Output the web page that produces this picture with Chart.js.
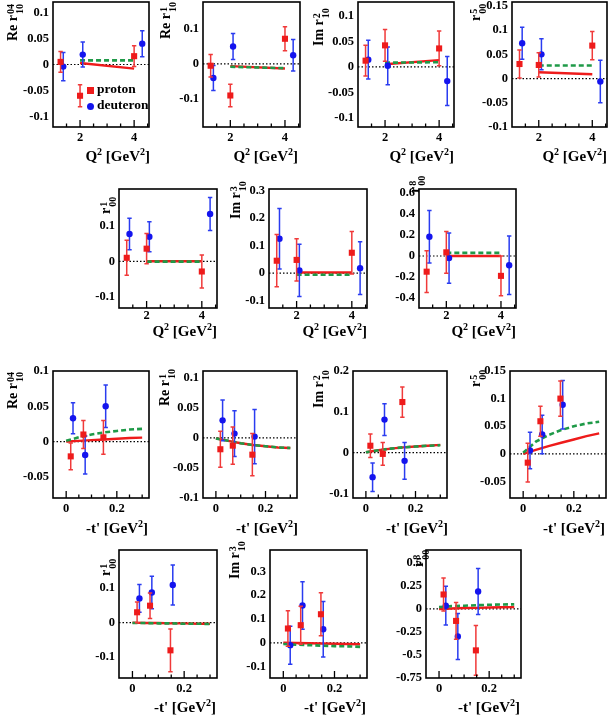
<!DOCTYPE html>
<html><head><meta charset="utf-8">
<script src="https://cdn.jsdelivr.net/npm/chart.js@4/dist/chart.umd.min.js"></script>
<style>
html,body{margin:0;padding:0;background:#fff;width:610px;height:716px;overflow:hidden;position:relative;font-family:"Liberation Serif","DejaVu Serif",serif;font-weight:bold;color:#000;}
canvas{position:absolute;}
.yt{position:absolute;transform:rotate(-90deg);transform-origin:0 0;white-space:nowrap;font-size:14px;line-height:20px;height:20px;}
.ss{display:inline-block;vertical-align:-6px;font-size:10px;line-height:9px;margin-left:1px;}
.ss span{display:block;}
.xt{position:absolute;font-size:15px;line-height:16px;white-space:nowrap;transform:translate(-100%,-50%);}
.xt sup{font-size:10px;position:relative;top:-6px;vertical-align:0;}
.leg{position:absolute;font-size:13.5px;line-height:14px;white-space:nowrap;}
.mk{position:absolute;}
</style>
</head><body>
<script>
// ---------- shared x values ----------
const qProtonX   = [1.28, 2.0, 4.0];
const qDeuteronX = [1.38, 2.1, 4.3];
const qModelX    = [2.0, 4.0];
const qTickLabels = [2, 4];
const qMinorTicks = [1.5, 2.5, 3, 3.5, 4.5];
const qRange = [1.0, 4.55];

const tProtonX   = [0.018, 0.068, 0.147];
const tDeuteronX = [0.027, 0.075, 0.156];
const tModelX    = [0, 0.05, 0.1, 0.15, 0.2, 0.25, 0.3];
const tTickLabels = [0, 0.2];
const tMinorTicks = [0.05, 0.1, 0.15, 0.25, 0.3];
const tRange = [-0.052, 0.327];

// ---------- panel 1: Re r04_10 vs Q2 ----------
const reR04Q_proton = [0.005, -0.060, 0.016];
const reR04Q_protonErr = [0.020, 0.021, 0.020];
const reR04Q_deuteron = [-0.004, 0.019, 0.040];
const reR04Q_deuteronErr = [0.027, 0.024, 0.025];
const reR04Q_red = [0.003, -0.008];
const reR04Q_green = [0.008, 0.008];
const reR04Q_ticks = [-0.1, -0.05, 0, 0.05, 0.1];
// ---------- panel 2: Re r1_10 vs Q2 ----------
const reR1Q_proton = [-0.005, -0.090, 0.072];
const reR1Q_protonErr = [0.032, 0.032, 0.034];
const reR1Q_deuteron = [-0.040, 0.050, 0.025];
const reR1Q_deuteronErr = [0.036, 0.037, 0.045];
const reR1Q_red = [-0.006, -0.013];
const reR1Q_green = [-0.008, -0.012];
const reR1Q_ticks = [-0.1, 0, 0.1];
// ---------- panel 3: Im r2_10 vs Q2 ----------
const imR2Q_proton = [0.012, 0.042, 0.036];
const imR2Q_protonErr = [0.030, 0.031, 0.034];
const imR2Q_deuteron = [0.014, 0.002, -0.028];
const imR2Q_deuteronErr = [0.038, 0.037, 0.048];
const imR2Q_red = [0.005, 0.013];
const imR2Q_green = [0.008, 0.009];
const imR2Q_ticks = [-0.1, -0.05, 0, 0.05, 0.1];
// ---------- panel 4: r5_00 vs Q2 ----------
const r5Q_proton = [0.030, 0.028, 0.068];
const r5Q_protonErr = [0.029, 0.025, 0.029];
const r5Q_deuteron = [0.073, 0.050, -0.006];
const r5Q_deuteronErr = [0.033, 0.032, 0.044];
const r5Q_red = [0.013, 0.009];
const r5Q_green = [0.027, 0.027];
const r5Q_ticks = [-0.1, -0.05, 0, 0.05, 0.1, 0.15];
// ---------- panel 5: r1_00 vs Q2 ----------
const r1Q_proton = [0.010, 0.036, -0.029];
const r1Q_protonErr = [0.050, 0.043, 0.047];
const r1Q_deuteron = [0.078, 0.070, 0.135];
const r1Q_deuteronErr = [0.045, 0.043, 0.047];
const r1Q_red = [0.000, 0.000];
const r1Q_green = [-0.001, -0.001];
const r1Q_ticks = [-0.1, 0, 0.1];
// ---------- panel 6: Im r3_10 vs Q2 ----------
const imR3Q_proton = [0.045, 0.048, 0.074];
const imR3Q_protonErr = [0.095, 0.077, 0.077];
const imR3Q_deuteron = [0.125, 0.010, 0.018];
const imR3Q_deuteronErr = [0.110, 0.095, 0.096];
const imR3Q_red = [0.002, 0.002];
const imR3Q_green = [-0.006, -0.006];
const imR3Q_ticks = [-0.1, 0, 0.1, 0.2, 0.3];
// ---------- panel 7: r8_00 vs Q2 ----------
const r8Q_proton = [-0.150, 0.035, -0.190];
const r8Q_protonErr = [0.200, 0.200, 0.190];
const r8Q_deuteron = [0.184, -0.020, -0.088];
const r8Q_deuteronErr = [0.250, 0.240, 0.280];
const r8Q_red = [0.000, 0.000];
const r8Q_green = [0.030, 0.030];
const r8Q_ticks = [-0.4, -0.2, 0, 0.2, 0.4, 0.6];
// ---------- panel 8: Re r04_10 vs -t' ----------
const reR04T_proton = [-0.021, 0.010, 0.006];
const reR04T_protonErr = [0.019, 0.020, 0.024];
const reR04T_deuteron = [0.033, -0.019, 0.050];
const reR04T_deuteronErr = [0.022, 0.027, 0.030];
const reR04T_red = [0.000, 0.001, 0.002, 0.003, 0.004, 0.005, 0.0055];
const reR04T_green = [0.001, 0.006, 0.010, 0.013, 0.015, 0.017, 0.018];
const reR04T_ticks = [-0.05, 0, 0.05, 0.1];
// ---------- panel 9: Re r1_10 vs -t' ----------
const reR1T_proton = [-0.019, -0.013, -0.028];
const reR1T_protonErr = [0.030, 0.031, 0.035];
const reR1T_deuteron = [0.029, 0.007, 0.002];
const reR1T_deuteronErr = [0.034, 0.038, 0.045];
const reR1T_red = [-0.001, -0.005, -0.009, -0.012, -0.014, -0.016, -0.017];
const reR1T_green = [-0.001, -0.005, -0.009, -0.012, -0.014, -0.016, -0.017];
const reR1T_ticks = [-0.1, -0.05, 0, 0.05, 0.1];
// ---------- panel 10: Im r2_10 vs -t' ----------
const imR2T_proton = [0.017, -0.003, 0.124];
const imR2T_protonErr = [0.029, 0.028, 0.037];
const imR2T_deuteron = [-0.060, 0.081, -0.020];
const imR2T_deuteronErr = [0.035, 0.039, 0.045];
const imR2T_red = [0.001, 0.006, 0.010, 0.013, 0.015, 0.017, 0.019];
const imR2T_green = [0.001, 0.006, 0.010, 0.013, 0.015, 0.017, 0.018];
const imR2T_ticks = [-0.1, 0, 0.1, 0.2];
// ---------- panel 11: r5_00 vs -t' ----------
const r5T_proton = [-0.016, 0.059, 0.100];
const r5T_protonErr = [0.035, 0.027, 0.032];
const r5T_deuteron = [0.006, 0.035, 0.089];
const r5T_deuteronErr = [0.033, 0.035, 0.044];
const r5T_red = [0.000, 0.007, 0.014, 0.020, 0.026, 0.032, 0.037];
const r5T_green = [0.002, 0.022, 0.034, 0.043, 0.050, 0.055, 0.058];
const r5T_ticks = [-0.05, 0, 0.05, 0.1, 0.15];
// ---------- panel 12: r1_00 vs -t' ----------
const r1T_proton = [0.030, 0.049, -0.080];
const r1T_protonErr = [0.030, 0.037, 0.062];
const r1T_deuteron = [0.070, 0.087, 0.109];
const r1T_deuteronErr = [0.040, 0.047, 0.058];
const r1T_red = [0.000, -0.001, -0.001, -0.002, -0.002, -0.003, -0.003];
const r1T_green = [-0.001, -0.001, -0.002, -0.002, -0.003, -0.003, -0.004];
const r1T_ticks = [-0.1, 0, 0.1];
// ---------- panel 13: Im r3_10 vs -t' ----------
const imR3T_proton = [0.060, 0.074, 0.120];
const imR3T_protonErr = [0.075, 0.080, 0.090];
const imR3T_deuteron = [-0.010, 0.157, 0.057];
const imR3T_deuteronErr = [0.080, 0.100, 0.117];
const imR3T_red = [0.000, -0.001, -0.002, -0.003, -0.004, -0.005, -0.006];
const imR3T_green = [-0.005, -0.008, -0.010, -0.012, -0.014, -0.015, -0.017];
const imR3T_ticks = [-0.1, 0, 0.1, 0.2, 0.3];
// ---------- panel 14: r8_00 vs -t' ----------
const r8T_proton = [0.157, -0.130, -0.450];
const r8T_protonErr = [0.180, 0.200, 0.270];
const r8T_deuteron = [0.035, -0.300, 0.190];
const r8T_deuteronErr = [0.210, 0.250, 0.250];
const r8T_red = [0.000, 0.005, 0.010, 0.012, 0.015, 0.018, 0.020];
const r8T_green = [0.020, 0.030, 0.035, 0.040, 0.045, 0.048, 0.050];
const r8T_ticks = [-0.75, -0.5, -0.25, 0, 0.25, 0.5];

// ---------- styles ----------
const RED = '#ee1b1b', RED_ERR = '#f03a3a', BLUE = '#1414ee', BLUE_ERR = '#2a3cf0', GREEN = '#1f9a48';
const Q_TITLE = 'Q<sup>2</sup> [GeV<sup>2</sup>]';
const T_TITLE = "-t' [GeV<sup>2</sup>]";
const ss = (a,b) => `<span class="ss"><span>${a}</span><span>${b}</span></span>`;

const panels = [
 {box:[53,2,149,127], pad:3, yr:[-0.12,0.12], yt:reR04Q_ticks, kind:'q', p:reR04Q_proton, pe:reR04Q_protonErr, d:reR04Q_deuteron, de:reR04Q_deuteronErr, red:reR04Q_red, green:reR04Q_green, title:'Re r'+ss('04','10'), tpos:[3,41], xtpos:[150,157]},
 {box:[203,2,300,127], pad:3, yr:[-0.18,0.177], yt:reR1Q_ticks, kind:'q', p:reR1Q_proton, pe:reR1Q_protonErr, d:reR1Q_deuteron, de:reR1Q_deuteronErr, red:reR1Q_red, green:reR1Q_green, title:'Re r'+ss('1','10'), tpos:[156,39], xtpos:[298,157]},
 {box:[358,2,454,127], pad:3, yr:[-0.118,0.127], yt:imR2Q_ticks, kind:'q', p:imR2Q_proton, pe:imR2Q_protonErr, d:imR2Q_deuteron, de:imR2Q_deuteronErr, red:imR2Q_red, green:imR2Q_green, title:'Im r'+ss('2','10'), tpos:[309,46], xtpos:[454,157]},
 {box:[512,2,607,127], pad:3, yr:[-0.1,0.158], yt:r5Q_ticks, kind:'q', p:r5Q_proton, pe:r5Q_protonErr, d:r5Q_deuteron, de:r5Q_deuteronErr, red:r5Q_red, green:r5Q_green, title:'r'+ss('5','00'), tpos:[466,21], xtpos:[607,157]},
 {box:[119,189,217,308], pad:0.5, yr:[-0.133,0.206], yt:r1Q_ticks, kind:'q', p:r1Q_proton, pe:r1Q_protonErr, d:r1Q_deuteron, de:r1Q_deuteronErr, red:r1Q_red, green:r1Q_green, title:'r'+ss('1','00'), tpos:[96,214], xtpos:[217,332]},
 {box:[269,189,367,308], pad:0.5, yr:[-0.127,0.306], yt:imR3Q_ticks, kind:'q', p:imR3Q_proton, pe:imR3Q_protonErr, d:imR3Q_deuteron, de:imR3Q_deuteronErr, red:imR3Q_red, green:imR3Q_green, title:'Im r'+ss('3','10'), tpos:[226,219], xtpos:[367,332]},
 {box:[419,189,516,308], pad:0.5, yr:[-0.497,0.64], yt:r8Q_ticks, kind:'q', p:r8Q_proton, pe:r8Q_protonErr, d:r8Q_deuteron, de:r8Q_deuteronErr, red:r8Q_red, green:r8Q_green, title:'r'+ss('8','00'), tpos:[405,193], xtpos:[516,332]},
 {box:[53,371,149,498], pad:3.5, yr:[-0.08,0.1], yt:reR04T_ticks, kind:'t', p:reR04T_proton, pe:reR04T_protonErr, d:reR04T_deuteron, de:reR04T_deuteronErr, red:reR04T_red, green:reR04T_green, title:'Re r'+ss('04','10'), tpos:[3,409], xtpos:[148,529]},
 {box:[203,371,297,498], pad:3.5, yr:[-0.1,0.111], yt:reR1T_ticks, kind:'t', p:reR1T_proton, pe:reR1T_protonErr, d:reR1T_deuteron, de:reR1T_deuteronErr, red:reR1T_red, green:reR1T_green, title:'Re r'+ss('1','10'), tpos:[155,406], xtpos:[298,529]},
 {box:[353,371,447,498], pad:3.5, yr:[-0.111,0.2], yt:imR2T_ticks, kind:'t', p:imR2T_proton, pe:imR2T_protonErr, d:imR2T_deuteron, de:imR2T_deuteronErr, red:imR2T_red, green:imR2T_green, title:'Im r'+ss('2','10'), tpos:[309,408], xtpos:[448,529]},
 {box:[510,371,606,498], pad:3.5, yr:[-0.08,0.15], yt:r5T_ticks, kind:'t', p:r5T_proton, pe:r5T_protonErr, d:r5T_deuteron, de:r5T_deuteronErr, red:r5T_red, green:r5T_green, title:'r'+ss('5','00'), tpos:[466,387], xtpos:[605,529]},
 {box:[119,550,217,678], pad:3.5, yr:[-0.16,0.21], yt:r1T_ticks, kind:'t', p:r1T_proton, pe:r1T_protonErr, d:r1T_deuteron, de:r1T_deuteronErr, red:r1T_red, green:r1T_green, title:'r'+ss('1','00'), tpos:[96,576], xtpos:[216,708]},
 {box:[270,550,367,678], pad:3.5, yr:[-0.148,0.39], yt:imR3T_ticks, kind:'t', p:imR3T_proton, pe:imR3T_protonErr, d:imR3T_deuteron, de:imR3T_deuteronErr, red:imR3T_red, green:imR3T_green, title:'Im r'+ss('3','10'), tpos:[225,579], xtpos:[366,708]},
 {box:[426,550,521,678], pad:3.5, yr:[-0.75,0.64], yt:r8T_ticks, kind:'t', p:r8T_proton, pe:r8T_protonErr, d:r8T_deuteron, de:r8T_deuteronErr, red:r8T_red, green:r8T_green, title:'r'+ss('8','00'), tpos:[409,567], xtpos:[520,708]}
];

const framePlugin = {
  id: 'frame',
  beforeDatasetsDraw(chart) {
    const ctx = chart.ctx, a = chart.chartArea, y0 = chart.scales.y.getPixelForValue(0);
    ctx.save();
    ctx.strokeStyle = '#000'; ctx.lineWidth = 1.2; ctx.setLineDash([1.5, 2]);
    ctx.beginPath(); ctx.moveTo(a.left, y0); ctx.lineTo(a.right, y0); ctx.stroke();
    ctx.restore();
  },
  beforeDatasetDraw(chart, args) {
    const ds = chart.data.datasets[args.index];
    if (!ds.errors) return;
    const ctx = chart.ctx, a = chart.chartArea, xs = chart.scales.x, ys = chart.scales.y;
    ctx.save();
    ctx.beginPath(); ctx.rect(a.left, a.top, a.right - a.left, a.bottom - a.top); ctx.clip();
    ctx.strokeStyle = ds.errColor; ctx.lineWidth = 1.5;
    ds.data.forEach((pt, i) => {
      const x = xs.getPixelForValue(pt.x);
      const yt = ys.getPixelForValue(pt.y + ds.errors[i]);
      const yb = ys.getPixelForValue(pt.y - ds.errors[i]);
      ctx.beginPath();
      ctx.moveTo(x, yt); ctx.lineTo(x, yb);
      ctx.moveTo(x - 2.2, yt); ctx.lineTo(x + 2.2, yt);
      ctx.moveTo(x - 2.2, yb); ctx.lineTo(x + 2.2, yb);
      ctx.stroke();
    });
    ctx.restore();
  },
  afterDraw(chart, args, opts) {
    const ctx = chart.ctx, a = chart.chartArea, xs = chart.scales.x;
    ctx.save();
    ctx.strokeStyle = '#000'; ctx.lineWidth = 1.6;
    ctx.strokeRect(a.left, a.top, a.right - a.left, a.bottom - a.top);
    ctx.lineWidth = 1.3;
    ctx.beginPath();
    (opts.major || []).forEach(v => { const x = xs.getPixelForValue(v); ctx.moveTo(x, a.bottom); ctx.lineTo(x, a.bottom - 7); });
    (opts.minor || []).forEach(v => { const x = xs.getPixelForValue(v); ctx.moveTo(x, a.bottom); ctx.lineTo(x, a.bottom - 3.5); });
    ctx.stroke();
    ctx.restore();
  }
};

Chart.defaults.font.family = "'Liberation Serif','DejaVu Serif',serif";
Chart.defaults.font.weight = 'bold';
Chart.defaults.color = '#000';

const YW = 52, PT = 12, PR = 12, XH = 24;
panels.forEach(p => {
  const isQ = p.kind === 'q';
  const px = isQ ? qProtonX : tProtonX, dx = isQ ? qDeuteronX : tDeuteronX, mx = isQ ? qModelX : tModelX;
  const xr = isQ ? qRange : tRange, xticks = isQ ? qTickLabels : tTickLabels, xminor = isQ ? qMinorTicks : tMinorTicks;
  const w = p.box[2] - p.box[0], h = p.box[3] - p.box[1];
  const cv = document.createElement('canvas');
  cv.width = w + YW + PR; cv.height = h + PT + XH;
  cv.style.left = (p.box[0] - YW) + 'px'; cv.style.top = (p.box[1] - PT) + 'px';
  cv.style.width = cv.width + 'px'; cv.style.height = cv.height + 'px';
  document.body.appendChild(cv);
  new Chart(cv, {
    type: 'scatter',
    data: { datasets: [
      {label:'proton', data: px.map((x,i)=>({x, y:p.p[i]})), errors:p.pe, errColor:RED_ERR, pointStyle:'rect', pointRadius:4.3, backgroundColor:RED, borderColor:RED, borderWidth:0, order:0},
      {label:'deuteron', data: dx.map((x,i)=>({x, y:p.d[i]})), errors:p.de, errColor:BLUE_ERR, pointStyle:'circle', pointRadius:3.2, backgroundColor:BLUE, borderColor:BLUE, borderWidth:0, order:0},
      {type:'line', label:'model green', data: mx.map((x,i)=>({x, y:p.green[i]})), showLine:true, borderColor:GREEN, borderDash:[5,3], borderWidth:2.6, pointRadius:0, fill:false, tension:0, order:1},
      {type:'line', label:'model red', data: mx.map((x,i)=>({x, y:p.red[i]})), showLine:true, borderColor:RED, borderWidth:2.4, pointRadius:0, fill:false, tension:0, order:2}
    ]},
    options: {
      responsive:false, animation:false, devicePixelRatio:1, events:[],
      layout:{padding:{top:PT, right:PR, left:0, bottom:0}},
      plugins:{legend:{display:false}, tooltip:{enabled:false}, frame:{major:xticks, minor:xminor}},
      scales:{
        x:{type:'linear', min:xr[0], max:xr[1],
           afterFit:s=>{s.height = XH;},
           afterBuildTicks:s=>{s.ticks = xticks.map(v=>({value:v}));},
           grid:{display:false, drawTicks:false}, border:{display:false},
           ticks:{autoSkip:false, maxRotation:0, padding:p.pad, font:{size:12.5, weight:'bold'}, color:'#000', callback:v=>String(v)}},
        y:{type:'linear', min:p.yr[0], max:p.yr[1],
           afterFit:s=>{s.width = YW;},
           afterBuildTicks:s=>{s.ticks = p.yt.map(v=>({value:v}));},
           grid:{display:false, drawTicks:false}, border:{display:false},
           ticks:{autoSkip:false, padding:4, font:{size:12.5, weight:'bold'}, color:'#000', callback:v=>String(v)}}
      }
    },
    plugins:[framePlugin]
  });
  const yt = document.createElement('div');
  yt.className = 'yt'; yt.innerHTML = p.title;
  yt.style.left = p.tpos[0] + 'px'; yt.style.top = p.tpos[1] + 'px';
  document.body.appendChild(yt);
  const xt = document.createElement('div');
  xt.className = 'xt'; xt.innerHTML = isQ ? Q_TITLE : T_TITLE;
  xt.style.left = p.xtpos[0] + 'px'; xt.style.top = p.xtpos[1] + 'px';
  document.body.appendChild(xt);
});

// legend inside first panel
const legendItems = [
  {label:'proton', color:RED, shape:'square', cx:90, cy:90},
  {label:'deuteron', color:BLUE, shape:'circle', cx:90, cy:106}
];
legendItems.forEach(it => {
  const m = document.createElement('div');
  m.className = 'mk';
  const s = 7;
  m.style.cssText = `left:${it.cx - s/2}px;top:${it.cy - s/2}px;width:${s}px;height:${s}px;background:${it.color};border-radius:${it.shape==='circle'?'50%':'0'}`;
  document.body.appendChild(m);
  const t = document.createElement('div');
  t.className = 'leg'; t.textContent = it.label;
  t.style.left = (it.cx + 7) + 'px'; t.style.top = (it.cy - 8) + 'px';
  document.body.appendChild(t);
});
</script>
</body></html>
